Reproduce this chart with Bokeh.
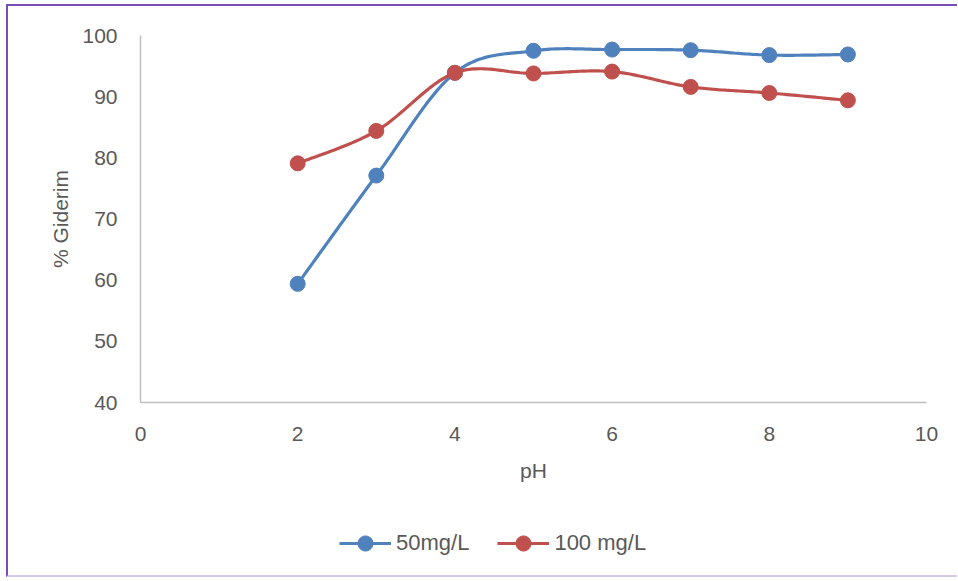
import numpy as np
from bokeh.plotting import figure
from bokeh.models import Legend, LegendItem, Range1d, FixedTicker, Label
from bokeh.embed import file_html
from bokeh.resources import INLINE

ph = [2, 3, 4, 5, 6, 7, 8, 9]
s50 = [59.4, 77.1, 93.9, 97.5, 97.7, 97.6, 96.8, 96.9]
s100 = [79.1, 84.4, 93.9, 93.8, 94.1, 91.6, 90.6, 89.4]
x_ticks = [0, 2, 4, 6, 8, 10]
y_ticks = [40, 50, 60, 70, 80, 90, 100]
x_min, x_max = 0, 10
y_min, y_max = 40, 100

BLUE = "#4f81bd"
RED = "#c0504d"
FONT = "Liberation Sans"
GREY = "#595959"

# layout (canvas pixels)
W, H = 951, 573
AX_LEFT, AX_RIGHT = 132, 918     # where x_min / x_max sit
AX_TOP, AX_BOTTOM = 29, 396      # where y_max / y_min sit
kx = (AX_RIGHT - AX_LEFT) / (x_max - x_min)
ky = (AX_BOTTOM - AX_TOP) / (y_max - y_min)


def smooth(xs, ys, n=30):
    xs = np.asarray(xs, float)
    ys = np.asarray(ys, float)
    px = np.concatenate([[xs[0]], xs, [xs[-1]]])
    py = np.concatenate([[ys[0]], ys, [ys[-1]]])
    outx, outy = [], []
    t = np.linspace(0, 1, n)
    for i in range(1, len(px) - 2):
        p0x, p1x, p2x, p3x = px[i - 1], px[i], px[i + 1], px[i + 2]
        p0y, p1y, p2y, p3y = py[i - 1], py[i], py[i + 1], py[i + 2]
        b1x = p1x + (p2x - p0x) / 6
        b1y = p1y + (p2y - p0y) / 6
        b2x = p2x - (p3x - p1x) / 6
        b2y = p2y - (p3y - p1y) / 6
        bx = (1 - t) ** 3 * p1x + 3 * (1 - t) ** 2 * t * b1x + 3 * (1 - t) * t ** 2 * b2x + t ** 3 * p2x
        by = (1 - t) ** 3 * p1y + 3 * (1 - t) ** 2 * t * b1y + 3 * (1 - t) * t ** 2 * b2y + t ** 3 * p2y
        outx.extend(bx.tolist())
        outy.extend(by.tolist())
    return outx, outy


# the frame fills the canvas; the axes sit at fixed places inside it
p = figure(width=W, height=H, output_backend="svg", toolbar_location=None,
           x_range=Range1d(x_min - AX_LEFT / kx, x_max + (W - AX_RIGHT) / kx),
           y_range=Range1d(y_min - (H - AX_BOTTOM) / ky, y_max + AX_TOP / ky),
           min_border_left=0, min_border_right=0, min_border_top=0, min_border_bottom=0)
p.styles = {"border-left": "2px solid #7a4cb8", "border-top": "2px solid #7a4cb8",
            "border-bottom": "2px solid #d8c8ea", "margin-left": "6px", "margin-top": "4px"}
p.outline_line_color = None
p.xgrid.visible = False
p.ygrid.visible = False

for ax in (p.xaxis[0], p.yaxis[0]):
    ax.axis_line_color = "#bfbfbf"
    ax.axis_line_width = 1.5
    ax.major_tick_line_color = None
    ax.minor_tick_line_color = None
    ax.major_label_text_font = FONT
    ax.major_label_text_font_size = "21px"
    ax.major_label_text_color = GREY

p.xaxis.ticker = FixedTicker(ticks=x_ticks)
p.yaxis.ticker = FixedTicker(ticks=y_ticks)
p.xaxis.fixed_location = y_min
p.yaxis.fixed_location = x_min
p.xaxis.bounds = (x_min, x_max)
p.yaxis.bounds = (y_min, y_max)
p.xaxis.major_label_standoff = 18
p.yaxis.major_label_standoff = 17

# axis titles
p.add_layout(Label(x=(x_min + x_max) / 2, y=y_min - 68 / ky, text="pH",
                   text_align="center", text_baseline="middle",
                   text_font=FONT, text_font_size="21px", text_color=GREY))
p.add_layout(Label(x=x_min - 80 / kx, y=(y_min + y_max) / 2, text="% Giderim",
                   angle=np.pi / 2, text_align="center", text_baseline="middle",
                   text_font=FONT, text_font_size="21px", text_color=GREY))

bx, by = smooth(ph, s50)
rx, ry = smooth(ph, s100)
l1 = p.line(bx, by, line_color=BLUE, line_width=3.2)
m1 = p.scatter(ph, s50, size=15, fill_color=BLUE, line_color=BLUE)
l2 = p.line(rx, ry, line_color=RED, line_width=3.2)
m2 = p.scatter(ph, s100, size=15, fill_color=RED, line_color=RED)

legend = Legend(items=[LegendItem(label="50mg/L", renderers=[l1, m1]),
                       LegendItem(label="100 mg/L", renderers=[l2, m2])],
                orientation="horizontal", location=(AX_LEFT + 199, 17),
                glyph_width=52, glyph_height=38, label_standoff=5, spacing=28,
                padding=0, margin=0, border_line_color=None, background_fill_alpha=0,
                label_text_font=FONT, label_text_font_size="22px", label_text_color=GREY)
p.add_layout(legend, "center")

open("out.html", "w").write(file_html(p, INLINE))
